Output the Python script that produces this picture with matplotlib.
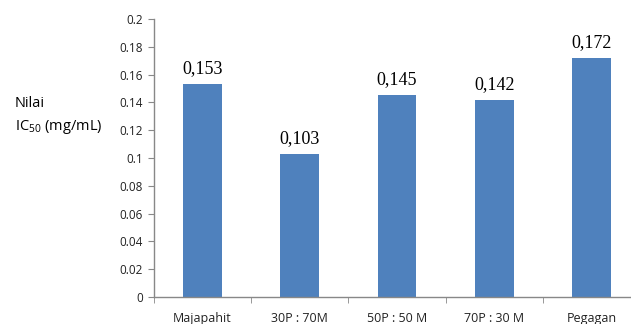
import matplotlib
matplotlib.use("Agg")
import matplotlib.pyplot as plt

categories = ["Majapahit", "30P : 70M", "50P : 50 M", "70P : 30 M", "Pegagan"]
values = [0.153, 0.103, 0.145, 0.142, 0.172]
value_labels = ["0,153", "0,103", "0,145", "0,142", "0,172"]
yticks = [0, 0.02, 0.04, 0.06, 0.08, 0.1, 0.12, 0.14, 0.16, 0.18, 0.2]
ytick_labels = ["0", "0.02", "0.04", "0.06", "0.08", "0.1", "0.12", "0.14", "0.16", "0.18", "0.2"]

W, H = 631, 324
fig = plt.figure(figsize=(W / 100, H / 100), dpi=100)
left, right, top, bottom = 154, 640, 19, 297
ax = fig.add_axes([left / W, 1 - bottom / H, (right - left) / W, (bottom - top) / H])

x = list(range(len(categories)))
ax.bar(x, values, width=0.4, color="#4F81BD", zorder=2)
ax.set_xlim(-0.5, len(categories) - 0.5)
ax.set_ylim(0, 0.2)

ax.set_yticks(yticks)
ax.set_yticklabels(ytick_labels, fontsize=8.5, family="Open Sans", color="#222222")
ax.set_xticks(x)
ax.set_xticklabels(categories, fontsize=9, family="Open Sans", color="#222222")
ax.set_xticks([i + 0.5 for i in range(-1, len(categories))], minor=True)
ax.tick_params(axis="x", which="major", length=0, pad=11)
ax.tick_params(axis="x", which="minor", length=4, color="#888888")
ax.tick_params(axis="y", length=4, color="#888888", pad=4)

for s in ["top", "right"]:
    ax.spines[s].set_visible(False)
for s in ["left", "bottom"]:
    ax.spines[s].set_color("#888888")
    ax.spines[s].set_linewidth(1)

for xi, v, lab in zip(x, values, value_labels):
    ax.annotate(lab, (xi, v), xytext=(0, 5), textcoords="offset points",
                ha="center", va="bottom", fontsize=13, family="Liberation Serif")

fig.text(15 / W, 1 - 103 / H, "Nilai", fontsize=10.5, family="Open Sans", va="center", ha="left")
fig.text(15 / W, 1 - 127 / H, r"IC$_{\mathregular{50}}$ (mg/mL)", fontsize=10.5, family="Open Sans", va="center", ha="left")

fig.savefig("out.png", dpi=100)
